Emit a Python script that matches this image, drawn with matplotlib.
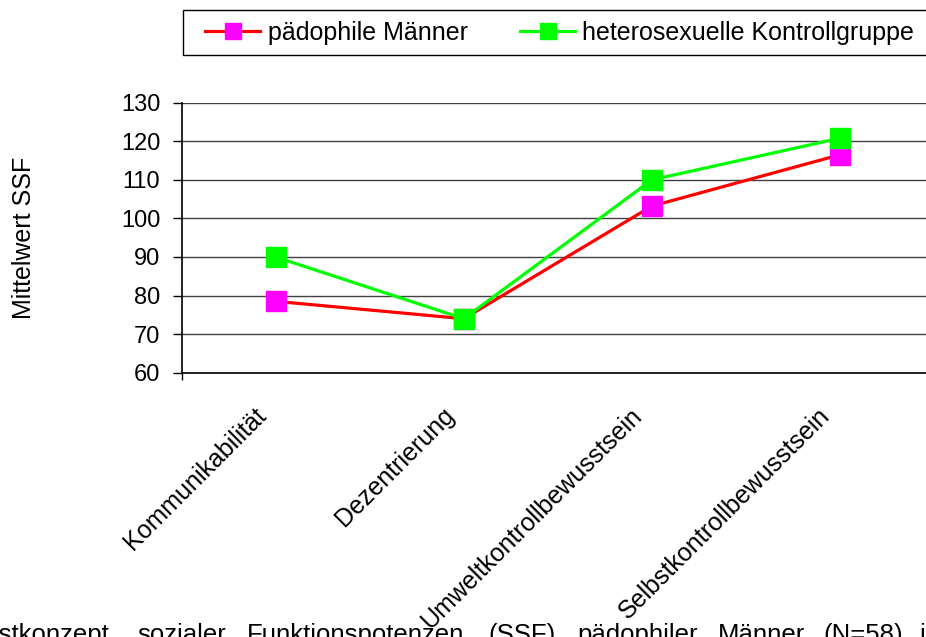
import matplotlib
matplotlib.use("Agg")
import matplotlib.pyplot as plt
from matplotlib.ticker import FixedLocator
from matplotlib.transforms import ScaledTranslation
from matplotlib.patches import Rectangle

plt.rcParams['font.family'] = ['Liberation Sans', 'DejaVu Sans']

categories = ["Kommunikabilität", "Dezentrierung", "Umweltkontrollbewusstsein", "Selbstkontrollbewusstsein"]
paedophile = [78.5, 74.0, 103.2, 116.5]
kontroll = [90.0, 74.0, 110.0, 120.8]
yticks = [60, 70, 80, 90, 100, 110, 120, 130]
series_labels = ["pädophile Männer", "heterosexuelle Kontrollgruppe"]
caption_words = ["Selbstkonzept", "sozialer", "Funktionspotenzen", "(SSF)", "pädophiler", "Männer", "(N=58)", "im"]
caption_x_px = [-52, 137, 247, 488, 577, 718, 823, 919]

W, H = 926, 637
fig = plt.figure(figsize=(W / 100, H / 100), dpi=100)
left = 181.7 / W
right = 934 / W
bottom = 1 - 372.7 / H
top = 1 - 102.7 / H
ax = fig.add_axes([left, bottom, right - left, top - bottom])

x = list(range(len(categories)))
l1, = ax.plot(x, paedophile, color='#ff0000', lw=2.3, marker='s', markersize=13.8,
              markerfacecolor='#ff00ff', markeredgecolor='#ff00ff', zorder=3,
              label=series_labels[0])
l2, = ax.plot(x, kontroll, color='#00ff00', lw=2.3, marker='s', markersize=13.8,
              markerfacecolor='#00ff00', markeredgecolor='#00ff00', zorder=4,
              label=series_labels[1])

ax.set_xlim(-0.5, len(categories) - 0.5)
ax.set_ylim(60, 130)
ax.set_yticks(yticks)
ax.yaxis.grid(True, color='#404040', lw=1.0)
ax.set_axisbelow(True)
for s in ['top', 'right']:
    ax.spines[s].set_visible(False)
ax.spines['left'].set_color('black')
ax.spines['left'].set_linewidth(1.2)
ax.spines['bottom'].set_color('black')
ax.spines['bottom'].set_linewidth(1.2)
ax.tick_params(axis='y', direction='out', length=6.5, width=1, labelsize=17, pad=9)
ax.set_xticks(x)
ax.set_xticklabels(categories, rotation=45, ha='right', va='top', rotation_mode='anchor', fontsize=18)
ax.tick_params(axis='x', length=0, pad=22)
off = ScaledTranslation(-0.22, 0, fig.dpi_scale_trans)
for lab in ax.get_xticklabels():
    lab.set_transform(lab.get_transform() + off)
ax.xaxis.set_minor_locator(FixedLocator([-0.5]))
ax.tick_params(axis='x', which='minor', length=5, width=1, direction='out')

ax.set_ylabel("Mittelwert SSF", fontsize=18)
ax.yaxis.set_label_coords((36 - 181.7) / (W * (right - left)), 0.5)

# legend frame (extends past the right edge like the reference)
frame = Rectangle((183 / W, 1 - 55 / H), (945 - 183) / W, 45 / H, transform=fig.transFigure,
                  facecolor='white', edgecolor='black', lw=1.0, zorder=1)
fig.patches.append(frame)
leg = fig.legend(handles=[l1, l2], loc='center left', bbox_to_anchor=(205 / W, 1 - 33 / H),
                 ncol=2, fontsize=18, frameon=False,
                 handlelength=2.2, handletextpad=0.3, columnspacing=2.1, borderpad=0,
                 borderaxespad=0, markerscale=0.85)
leg.set_zorder(2)

for word, xp in zip(caption_words, caption_x_px):
    fig.text(xp / W, 1 - 641.5 / H, word, fontsize=18.5, ha='left', va='baseline')

fig.savefig("out.png", dpi=100)
